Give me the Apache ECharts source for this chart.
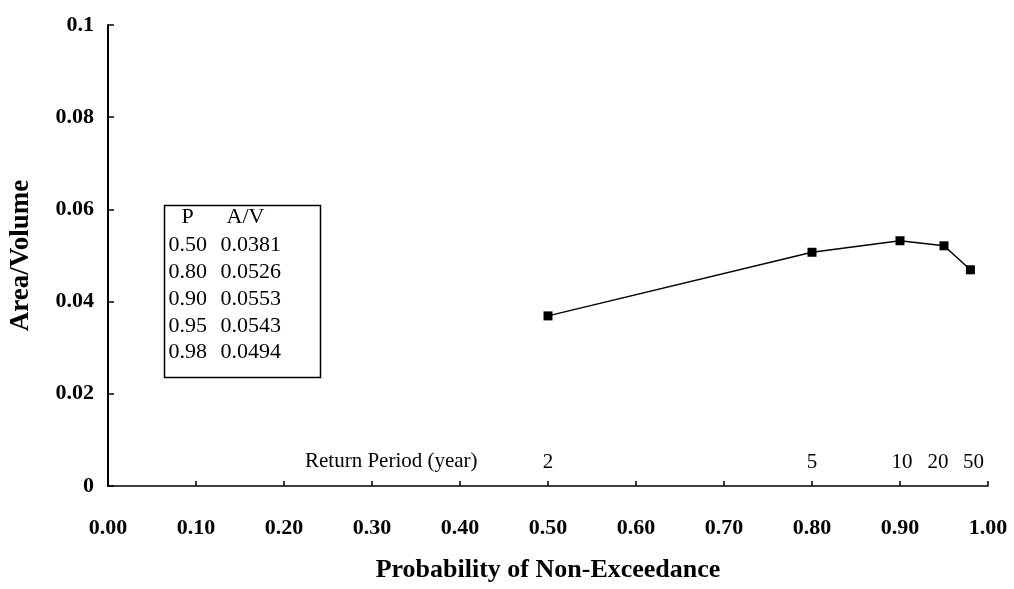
<!DOCTYPE html>
<html>
<head>
<meta charset="utf-8">
<script src="https://cdn.jsdelivr.net/npm/echarts@6/dist/echarts.min.js"></script>
<style>
html,body{margin:0;padding:0;background:#fff;}
#chart{width:1014px;height:589px;}
</style>
</head>
<body>
<div id="chart"></div>
<script>
// Plotted points
var probP = [0.50, 0.80, 0.90, 0.95, 0.98];
var areaVolume = [0.0369, 0.0507, 0.0532, 0.0521, 0.0469];
// Return period annotations
var returnLabels = ['2', '5', '10', '20', '50'];
// Table text
var tableP = ['0.50', '0.80', '0.90', '0.95', '0.98'];
var tableAV = ['0.0381', '0.0526', '0.0553', '0.0543', '0.0494'];
// Axis ticks
var xTicks = [0, 0.1, 0.2, 0.3, 0.4, 0.5, 0.6, 0.7, 0.8, 0.9, 1.0];
var yTicks = [0, 0.02, 0.04, 0.06, 0.08, 0.1];

var serif = '"Liberation Serif", "Times New Roman", serif';
var chart = echarts.init(document.getElementById('chart'));

var lineData = probP.map(function (p, i) { return [p, areaVolume[i]]; });
var rpData = probP.map(function (p, i) { return [p, 0, returnLabels[i]]; });
var rpOffsets = [[0,0],[0,0],[2,0],[-6,0],[3,0]];

var tFont = '22px ' + serif;
var tableTexts = [
  {type:'text', left: 17, top: 1, style:{text:'P', font:tFont, fill:'#000'}},
  {type:'text', left: 62, top: 1, style:{text:'A/V', font:tFont, fill:'#000'}}
];
tableP.forEach(function (p, i) {
  tableTexts.push({type:'text', left: 4, top: 29 + i * 26.8, style:{text:p, font:tFont, fill:'#000'}});
  tableTexts.push({type:'text', left: 56, top: 29 + i * 26.8, style:{text:tableAV[i], font:tFont, fill:'#000'}});
});

var option = {
  backgroundColor: '#fff',
  animation: false,
  grid: { left: 108, right: 26, top: 25, bottom: 103 },
  xAxis: {
    type: 'value', min: 0, max: 1, interval: 0.1,
    name: 'Probability of Non-Exceedance',
    nameLocation: 'middle', nameGap: 71,
    nameTextStyle: { fontFamily: serif, fontWeight: 'bold', fontSize: 26, color: '#000' },
    axisLine: { lineStyle: { color: '#000', width: 1.5 } },
    axisTick: { inside: true, length: 5, lineStyle: { color: '#000', width: 1.5 } },
    axisLabel: { margin: 31, fontFamily: serif, fontWeight: 'bold', fontSize: 22, color: '#000',
      formatter: function (v) { return v.toFixed(2); } },
    splitLine: { show: false }
  },
  yAxis: {
    type: 'value', min: 0, max: 0.1, interval: 0.02,
    name: 'Area/Volume',
    nameLocation: 'middle', nameGap: 73,
    nameTextStyle: { fontFamily: serif, fontWeight: 'bold', fontSize: 27, color: '#000' },
    axisLine: { lineStyle: { color: '#000', width: 2 } },
    axisTick: { inside: true, length: 6, lineStyle: { color: '#000', width: 1.5 } },
    axisLabel: { margin: 14, fontFamily: serif, fontWeight: 'bold', fontSize: 22, color: '#000',
      formatter: function (v) { return v === 0 ? '0' : (Math.abs(v - 0.1) < 1e-9 ? '0.1' : v.toFixed(2)); } },
    splitLine: { show: false }
  },
  series: [
    {
      type: 'line',
      data: lineData,
      symbol: 'rect', symbolSize: 9,
      itemStyle: { color: '#000' },
      lineStyle: { color: '#000', width: 1.5 }
    },
    {
      type: 'scatter',
      data: rpData.map(function (d, i) {
        return { value: d, label: { offset: rpOffsets[i] } };
      }),
      symbolSize: 0,
      silent: true,
      itemStyle: { color: '#000', opacity: 1 },
      label: {
        show: true, position: 'top', distance: 13,
        formatter: function (p) { return p.value[2]; },
        fontFamily: serif, fontSize: 21, color: '#000'
      }
    }
  ],
  graphic: [
    {
      type: 'text', left: 305, top: 451,
      style: { text: 'Return Period (year)', font: '21px ' + serif, fill: '#000' }
    },
    {
      type: 'group', left: 162, top: 203,
      children: [
        { type: 'rect', shape: { x: 0, y: 0, width: 156, height: 172 },
          style: { fill: 'none', stroke: '#000', lineWidth: 1.5 } }
      ].concat(tableTexts)
    }
  ]
};
chart.setOption(option);
</script>
</body>
</html>
